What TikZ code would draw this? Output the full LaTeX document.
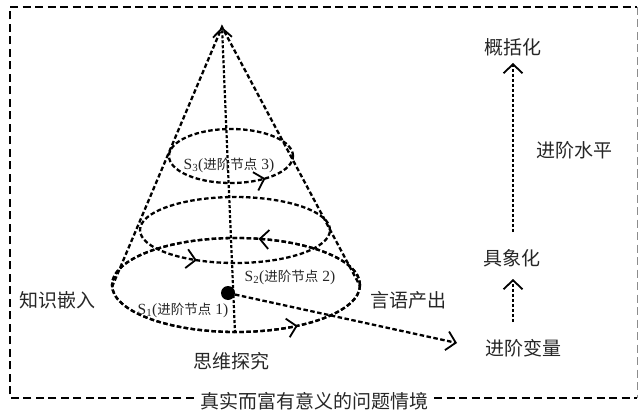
\documentclass[tikz,border=0pt]{standalone}
\usepackage{fontspec}
\setmainfont{Liberation Serif}
\newfontfamily\cjk{Noto Sans CJK SC}
\usetikzlibrary{arrows.meta,decorations.markings}
\newcommand{\cjs}[1]{{\cjk\fontsize{13.5}{13.5}\selectfont #1}}
\begin{document}
\begin{tikzpicture}[x=1pt,y=-1pt,
  lbl/.style={font=\cjk\fontsize{19}{19}\selectfont, text=black!85, inner sep=0pt},
  slbl/.style={font=\fontsize{15.5}{15.5}\selectfont, text=black!85, inner sep=0pt},
  conel/.style={line width=2.3pt, dash pattern=on 4.5pt off 2.5pt},
  axisl/.style={line width=2.2pt, dash pattern=on 3pt off 2pt},
  framel/.style={line width=2pt, dash pattern=on 8pt off 4.5pt},
  barb/.tip={Straight Barb[length=9pt,width=19pt,line width=1.8pt]},
  midarrow/.style={postaction={decorate},
    decoration={markings, mark=at position #1 with {\arrow{barb}}}}
]
\useasboundingbox (0,0) rectangle (639,414);

% frame
\node[lbl, inner xsep=6pt] (ctx) at (314,401) {真实而富有意义的问题情境};
\coordinate (fbl) at (10,398);
\coordinate (ftl) at (10,7);
\coordinate (ftr) at (637,7);
\coordinate (fbr) at (637,398);
\draw[framel] (ctx.west |- fbl) -- (fbl) -- (ftl) -- (ftr);
\draw[framel] (ctx.east |- fbr) -- (fbr);
\draw[black!45, line width=0.9pt, dash pattern=on 8pt off 4.5pt] (ftr) -- (fbr);

% cone
\coordinate (apex) at (222,27);
\coordinate (bl) at (112,287);
\coordinate (br) at (360,286);
\coordinate (bb) at (235,333);
\draw[conel] (bl) -- (apex) -- (br);
\draw[axisl, -{barb}] (bb) -- (apex);

% ellipses (levels)
\draw[conel, midarrow=0.87] (231,156) ellipse [x radius=62pt, y radius=27pt];
\draw[conel, midarrow=0.66] (235,230) ellipse [x radius=95pt, y radius=33pt];
\draw[conel, midarrow=0.21] (236,285) ellipse [x radius=124pt, y radius=47pt];
\draw[conel, midarrow=0.86] (236,285) ellipse [x radius=124pt, y radius=47pt];

% node labels
\node[slbl] (s3) at (229,165) {S\textsubscript{3}(\cjs{进阶节点}\hspace{4pt}3)};
\node[slbl] (s2) at (290,277) {S\textsubscript{2}(\cjs{进阶节点}\hspace{4pt}2)};
\node[slbl] (s1) at (183,310) {S\textsubscript{1}(\cjs{进阶节点}\hspace{4pt}1)};

% dot and variable arrow
\node[circle, fill=black, inner sep=0pt, minimum size=14pt] (dot) at (228,293) {};
\coordinate (varend) at (457,343);
\draw[conel, -{barb}] (dot) -- (varend);

% side labels
\node[lbl] (zs) at (57,300) {知识嵌入};
\node[lbl] (yy) at (408,300) {言语产出};
\node[lbl] (sw) at (231,361) {思维探究};

% right scale
\node[lbl] (gk) at (513,47) {概括化};
\node[lbl] (jx) at (512,258) {具象化};
\node[lbl] (jb) at (523,348) {进阶变量};
\node[lbl] (sp) at (574,150) {进阶水平};
\coordinate (a1s) at (513,232);
\coordinate (a1e) at (513,63);
\coordinate (a2s) at (513,322);
\coordinate (a2e) at (513,279);
\draw[axisl, -{barb}] (a1s) -- (a1e);
\draw[axisl, -{barb}] (a2s) -- (a2e);
\end{tikzpicture}
\end{document}
